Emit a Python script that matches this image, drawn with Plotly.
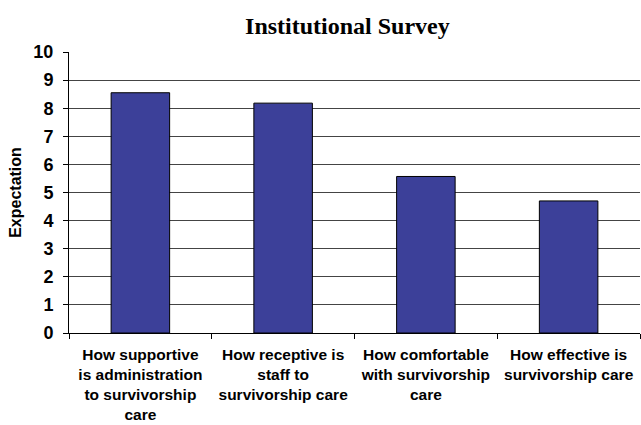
import plotly.graph_objects as go

categories = [
    "How supportive<br>is administration<br>to survivorship<br>care",
    "How receptive is<br>staff to<br>survivorship care",
    "How comfortable<br>with survivorship<br>care",
    "How effective is<br>survivorship care",
]
values = [8.55, 8.18, 5.57, 4.70]
y_ticks = list(range(0, 11))

fig = go.Figure(go.Bar(
    x=categories, y=values,
    marker=dict(color="#3C4099", line=dict(color="#000000", width=1)),
    width=0.41,
))

fig.update_layout(
    width=641, height=425,
    margin=dict(l=69, r=1, t=52, b=92),
    paper_bgcolor="white", plot_bgcolor="white",
    showlegend=False,
    title=dict(text="<b>Institutional Survey</b>", x=0.542, xanchor="center",
               y=0.9395, yanchor="middle",
               font=dict(family="Liberation Serif", size=24, color="black")),
    xaxis=dict(
        showline=True, linecolor="black", linewidth=1,
        ticks="outside", tickson="boundaries", ticklen=5, tickcolor="black",
        showgrid=False, automargin=False,
        tickvals=categories,
        ticktext=["<b>" + c + "</b>" for c in categories],
        tickfont=dict(family="Liberation Sans", size=15.5, color="black"),
        tickangle=0, ticklabelstandoff=7,
    ),
    yaxis=dict(
        range=[0, 10], tickvals=y_ticks,
        ticktext=["<b>%d</b>" % v for v in y_ticks],
        showline=True, linecolor="black", linewidth=1,
        ticks="outside", ticklen=5, tickcolor="black",
        showgrid=True, gridcolor="#444444", gridwidth=1,
        tickfont=dict(family="Liberation Sans", size=18, color="black"),
        ticklabelstandoff=6, automargin=False,
        title=dict(text="<b>Expectation</b>", standoff=7,
                   font=dict(family="Liberation Sans", size=16, color="black")),
        zeroline=False,
    ),
)

fig.write_html("out.html")
